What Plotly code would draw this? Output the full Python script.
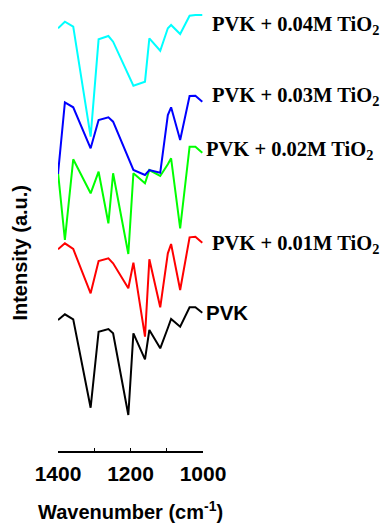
import plotly.graph_objects as go

wavenumber = [1400, 1381, 1358, 1310, 1288, 1261, 1248, 1206, 1192, 1160, 1148, 1118, 1097, 1088, 1063, 1037, 1021, 1002]

pvk = [1.31, 1.367, 1.317, 0.433, 1.193, 1.22, 1.177, 0.36, 1.177, 0.917, 1.21, 1.027, 1.23, 1.32, 1.243, 1.437, 1.437, 1.383]
pvk_001 = [2.017, 2.077, 2.02, 1.577, 1.90, 1.927, 1.877, 1.627, 1.883, 1.143, 1.917, 1.437, 1.977, 2.07, 1.61, 2.137, 2.143, 2.083]
pvk_002 = [2.79, 2.11, 2.917, 2.577, 2.793, 2.277, 2.777, 1.97, 2.777, 2.677, 2.81, 2.75, 2.867, 2.927, 2.227, 3.043, 3.043, 2.983]
pvk_003 = [2.77, 3.487, 3.437, 3.027, 3.31, 3.337, 3.293, 2.93, 2.81, 2.76, 2.81, 2.783, 3.36, 3.437, 3.11, 3.55, 3.553, 3.493]
pvk_004 = [4.227, 4.293, 4.243, 3.143, 4.117, 4.15, 4.093, 3.763, 3.653, 3.693, 4.127, 4.003, 4.227, 4.26, 4.17, 4.353, 4.36, 4.36]

series = [
    ("PVK", pvk, "#000000"),
    ("PVK + 0.01M TiO<sub>2</sub>", pvk_001, "#FF0000"),
    ("PVK + 0.02M TiO<sub>2</sub>", pvk_002, "#00FF00"),
    ("PVK + 0.03M TiO<sub>2</sub>", pvk_003, "#0000FF"),
    ("PVK + 0.04M TiO<sub>2</sub>", pvk_004, "#00FFFF"),
]
label_y = [1.39, 2.07, 3.01, 3.55, 4.26]
label_x = [1.01, 1.045, 1.01, 1.045, 1.045]

tick_vals = [1400, 1200, 1000]
tick_text = ["1400", "1200", "1000"]

fig = go.Figure()
for name, vals, color in series:
    fig.add_trace(go.Scatter(x=wavenumber, y=vals, mode="lines", name=name,
                             line=dict(color=color, width=2), showlegend=False,
                             cliponaxis=False))

for (name, vals, color), ly, lx in zip(series, label_y, label_x):
    is_plain = name == "PVK"
    fig.add_annotation(
        text=name, xref="paper", yref="y", x=lx, y=ly,
        xanchor="left", yanchor="middle", showarrow=False,
        font=dict(family="Liberation Sans" if is_plain else "Liberation Serif",
                  size=20.5, color="#000000", weight="bold"),
    )

fig.add_annotation(
    text="Intensity (a.u.)", xref="paper", yref="paper", x=-0.262, y=0.45,
    xanchor="center", yanchor="middle", textangle=-90, showarrow=False,
    font=dict(family="Liberation Sans", size=20, color="#000000", weight="bold"),
)
fig.add_annotation(
    text="Wavenumber (cm<sup>-1</sup>)", xref="paper", yref="paper", x=0.5, y=-0.168,
    xanchor="center", yanchor="bottom", showarrow=False,
    font=dict(family="Liberation Sans", size=20, color="#000000", weight="bold"),
)

fig.update_layout(
    width=389, height=527,
    margin=dict(l=58, r=186, t=10, b=76),
    paper_bgcolor="white", plot_bgcolor="white",
    xaxis=dict(range=[1400, 1000], tickvals=tick_vals, ticktext=tick_text,
               ticks="inside", ticklen=3, tickwidth=1, tickcolor="#000000",
               minor=dict(ticks="inside", ticklen=3, tickwidth=1, tickcolor="#000000",
                          dtick=100, tick0=1000, showgrid=False),
               ticklabelstandoff=3,
               showline=True, linecolor="#000000", linewidth=2,
               showgrid=False, zeroline=False,
               tickfont=dict(family="Liberation Sans", size=21, color="#000000", weight="bold")),
    yaxis=dict(range=[0, 4.41], visible=False, showgrid=False, zeroline=False),
)

fig.write_html("out.html")
